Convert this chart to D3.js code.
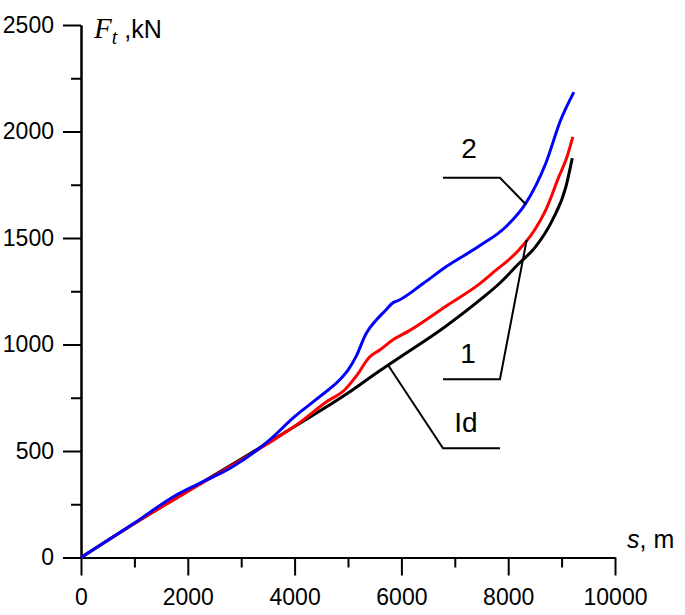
<!DOCTYPE html>
<html>
<head>
<meta charset="utf-8">
<title>Traction force vs distance</title>
<script src="https://cdn.jsdelivr.net/npm/d3@7"></script>
<style>
  body { margin: 0; background: #fff; }
  text { font-family: "Liberation Sans", Arial, sans-serif; }
</style>
</head>
<body>
<script>
// curves: [s (m), F (kN)]
var idealPts = [[0,0],[1000,160],[2000,312],[3000,462],[4000,615],[5000,772],[5600,878],[6000,945],
  [6800,1080],[7500,1215],[7850,1290],[8200,1380],[8500,1455],[8830,1585],[9080,1740],[9200,1875]];
var curve1Pts = [[0,0],[1000,160],[2000,310],[2800,428],[3500,535],[4000,616],[4600,731],[4950,790],
  [5150,850],[5400,940],[5600,975],[5830,1020],[6150,1065],[6835,1180],[7450,1282],[7704,1335],
  [8200,1444],[8500,1540],[8700,1630],[8950,1788],[9100,1880],[9210,1975]];
var curve2Pts = [[0,0],[1000,162],[1800,296],[2200,346],[2800,420],[3500,545],[4000,661],[4470,755],
  [4840,833],[5000,880],[5150,943],[5340,1052],[5530,1115],[5700,1160],[5830,1194],[5963,1209],
  [6400,1285],[6835,1365],[7458,1462],[7957,1553],[8330,1663],[8704,1851],[8983,2054],[9230,2185]];

var seriesNames = ["Id", "1", "2"];
var seriesColors = ["#000000", "#ff0000", "#0000ff"];
var seriesData = [idealPts, curve1Pts, curve2Pts];

var xMajor = [0, 2000, 4000, 6000, 8000, 10000];
var xMinor = [1000, 3000, 5000, 7000, 9000];
var yMajor = [0, 500, 1000, 1500, 2000, 2500];
var yMinor = [250, 750, 1250, 1750, 2250];

// leader labels: text point, horizontal bar (s0, s1, F), point on curve
var labels = ["2", "1", "Id"];
var labelText = [[7266, 1876], [7247, 913], [7210, 589]];
var labelBar = [[6779, 7846, 1783], [6779, 7846, 837], [6779, 7846, 513]];
var labelHit = [[8333, 1657], [8346, 1491], [5749, 904]];
var labelSide = ["right", "right", "left"];

var W = 685, H = 615;
var svg = d3.select("body").append("svg").attr("width", W).attr("height", H);

var x = d3.scaleLinear().domain([0, 10000]).range([81, 615]);
var y = d3.scaleLinear().domain([0, 2500]).range([557.5, 25]);

function styleAxis(g) {
  g.selectAll("path").attr("stroke", "#000").attr("stroke-width", 2);
  g.selectAll(".tick line").attr("stroke", "#000").attr("stroke-width", 2);
  g.selectAll("text").attr("font-size", 23).attr("fill", "#000");
}

// minor ticks first, majors with labels on top
svg.append("g").attr("transform", "translate(0," + y(0) + ")")
  .call(d3.axisBottom(x).tickValues(xMinor).tickSize(10).tickFormat("").tickSizeOuter(0))
  .call(styleAxis);
svg.append("g").attr("transform", "translate(0," + y(0) + ")")
  .call(d3.axisBottom(x).tickValues(xMajor).tickSize(18).tickPadding(13).tickFormat(d3.format("d")).tickSizeOuter(0))
  .call(styleAxis);
svg.append("g").attr("transform", "translate(" + x(0) + ",0)")
  .call(d3.axisLeft(y).tickValues(yMinor).tickSize(10).tickFormat("").tickSizeOuter(0))
  .call(styleAxis);
svg.append("g").attr("transform", "translate(" + x(0) + ",0)")
  .call(d3.axisLeft(y).tickValues(yMajor).tickSize(18).tickPadding(9).tickFormat(d3.format("d")).tickSizeOuter(0))
  .call(styleAxis);

// axis titles
var yt = svg.append("text").attr("x", 94).attr("y", 38).attr("font-size", 25);
yt.append("tspan").attr("font-family", "Liberation Serif, Times New Roman, serif")
  .attr("font-style", "italic").attr("font-size", 29).text("F");
yt.append("tspan").attr("font-family", "Liberation Serif, Times New Roman, serif")
  .attr("font-style", "italic").attr("font-size", 20).attr("dy", 6).text("t");
yt.append("tspan").attr("dy", -6).text(" ,kN");

var xt = svg.append("text").attr("x", 627).attr("y", 548).attr("font-size", 25);
xt.append("tspan").attr("font-style", "italic").text("s");
xt.append("tspan").text(", m");

// curves
var line = d3.line().x(function(d) { return x(d[0]); }).y(function(d) { return y(d[1]); })
  .curve(d3.curveMonotoneX);

svg.append("g").selectAll("path").data(seriesData).join("path")
  .attr("d", line)
  .attr("fill", "none")
  .attr("stroke", function(d, i) { return seriesColors[i]; })
  .attr("stroke-width", 3)
  .attr("stroke-linejoin", "round");

// leader lines and labels
labels.forEach(function(lab, i) {
  var b = labelBar[i], h = labelHit[i];
  var pts = [[b[0], b[2]], [b[1], b[2]]];
  if (labelSide[i] == "right") pts.push(h); else pts.unshift(h);
  svg.append("path")
    .attr("d", d3.line().x(function(d) { return x(d[0]); }).y(function(d) { return y(d[1]); })(pts))
    .attr("fill", "none").attr("stroke", "#000").attr("stroke-width", 2);
  svg.append("text")
    .attr("x", x(labelText[i][0])).attr("y", y(labelText[i][1]))
    .attr("text-anchor", "middle").attr("font-size", 28).text(lab);
});
</script>
</body>
</html>
